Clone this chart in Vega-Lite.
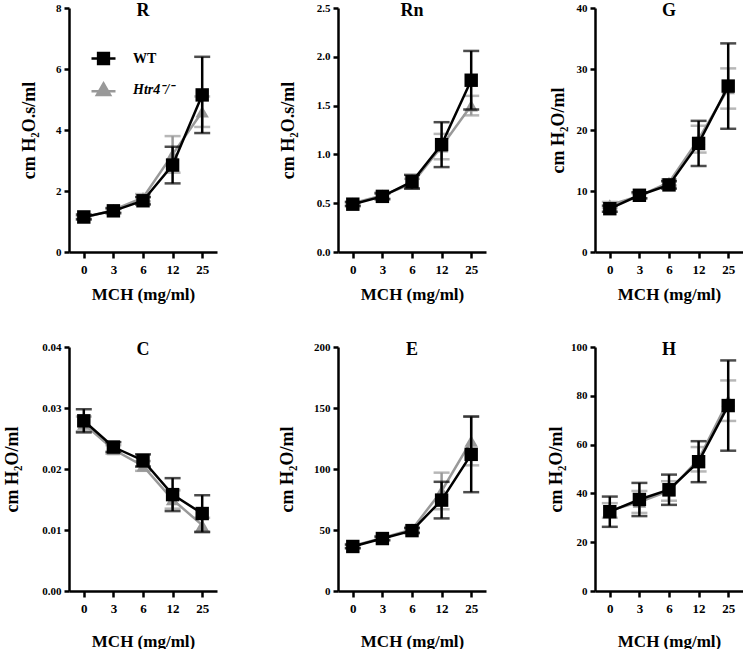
{
  "$schema": "https://vega.github.io/schema/vega-lite/v6.json",
  "padding": {"left": 3, "top": 2, "right": 0, "bottom": 0},
  "data": {"values": [
    {"panel": "R", "group": "WT", "dose": 0, "mean": 1.15, "err": 0.08},
    {"panel": "R", "group": "WT", "dose": 3, "mean": 1.35, "err": 0.08},
    {"panel": "R", "group": "WT", "dose": 6, "mean": 1.68, "err": 0.12},
    {"panel": "R", "group": "WT", "dose": 12, "mean": 2.85, "err": 0.6},
    {"panel": "R", "group": "WT", "dose": 25, "mean": 5.15, "err": 1.25},
    {"panel": "R", "group": "Htr4", "dose": 0, "mean": 1.12, "err": 0.05},
    {"panel": "R", "group": "Htr4", "dose": 3, "mean": 1.38, "err": 0.07},
    {"panel": "R", "group": "Htr4", "dose": 6, "mean": 1.78, "err": 0.12},
    {"panel": "R", "group": "Htr4", "dose": 12, "mean": 3.2, "err": 0.6},
    {"panel": "R", "group": "Htr4", "dose": 25, "mean": 4.6, "err": 0.5},
    {"panel": "Rn", "group": "WT", "dose": 0, "mean": 0.49, "err": 0.02},
    {"panel": "Rn", "group": "WT", "dose": 3, "mean": 0.57, "err": 0.03},
    {"panel": "Rn", "group": "WT", "dose": 6, "mean": 0.72, "err": 0.07},
    {"panel": "Rn", "group": "WT", "dose": 12, "mean": 1.1, "err": 0.23},
    {"panel": "Rn", "group": "WT", "dose": 25, "mean": 1.76, "err": 0.3},
    {"panel": "Rn", "group": "Htr4", "dose": 0, "mean": 0.5, "err": 0.02},
    {"panel": "Rn", "group": "Htr4", "dose": 3, "mean": 0.58, "err": 0.03},
    {"panel": "Rn", "group": "Htr4", "dose": 6, "mean": 0.7, "err": 0.05},
    {"panel": "Rn", "group": "Htr4", "dose": 12, "mean": 1.08, "err": 0.13},
    {"panel": "Rn", "group": "Htr4", "dose": 25, "mean": 1.5, "err": 0.1},
    {"panel": "G", "group": "WT", "dose": 0, "mean": 7.1, "err": 0.5},
    {"panel": "G", "group": "WT", "dose": 3, "mean": 9.3, "err": 0.5},
    {"panel": "G", "group": "WT", "dose": 6, "mean": 11.0, "err": 0.6},
    {"panel": "G", "group": "WT", "dose": 12, "mean": 17.8, "err": 3.7},
    {"panel": "G", "group": "WT", "dose": 25, "mean": 27.2, "err": 7.0},
    {"panel": "G", "group": "Htr4", "dose": 0, "mean": 7.7, "err": 0.5},
    {"panel": "G", "group": "Htr4", "dose": 3, "mean": 9.2, "err": 0.4},
    {"panel": "G", "group": "Htr4", "dose": 6, "mean": 11.4, "err": 0.5},
    {"panel": "G", "group": "Htr4", "dose": 12, "mean": 18.5, "err": 2.2},
    {"panel": "G", "group": "Htr4", "dose": 25, "mean": 26.8, "err": 3.3},
    {"panel": "C", "group": "WT", "dose": 0, "mean": 0.0279, "err": 0.0019},
    {"panel": "C", "group": "WT", "dose": 3, "mean": 0.0236, "err": 0.0008},
    {"panel": "C", "group": "WT", "dose": 6, "mean": 0.0214, "err": 0.001},
    {"panel": "C", "group": "WT", "dose": 12, "mean": 0.0158, "err": 0.0027},
    {"panel": "C", "group": "WT", "dose": 25, "mean": 0.0127, "err": 0.003},
    {"panel": "C", "group": "Htr4", "dose": 0, "mean": 0.0274, "err": 0.0012},
    {"panel": "C", "group": "Htr4", "dose": 3, "mean": 0.0232, "err": 0.0007},
    {"panel": "C", "group": "Htr4", "dose": 6, "mean": 0.0205, "err": 0.0008},
    {"panel": "C", "group": "Htr4", "dose": 12, "mean": 0.015, "err": 0.0015},
    {"panel": "C", "group": "Htr4", "dose": 25, "mean": 0.0108, "err": 0.0012},
    {"panel": "E", "group": "WT", "dose": 0, "mean": 36.5, "err": 1.5},
    {"panel": "E", "group": "WT", "dose": 3, "mean": 43, "err": 1.5},
    {"panel": "E", "group": "WT", "dose": 6, "mean": 49.5, "err": 2},
    {"panel": "E", "group": "WT", "dose": 12, "mean": 74.5, "err": 15},
    {"panel": "E", "group": "WT", "dose": 25, "mean": 112, "err": 31},
    {"panel": "E", "group": "Htr4", "dose": 0, "mean": 37, "err": 1.5},
    {"panel": "E", "group": "Htr4", "dose": 3, "mean": 43.5, "err": 1.5},
    {"panel": "E", "group": "Htr4", "dose": 6, "mean": 50.5, "err": 2},
    {"panel": "E", "group": "Htr4", "dose": 12, "mean": 82, "err": 15},
    {"panel": "E", "group": "Htr4", "dose": 25, "mean": 123, "err": 20},
    {"panel": "H", "group": "WT", "dose": 0, "mean": 32.5, "err": 6.2},
    {"panel": "H", "group": "WT", "dose": 3, "mean": 37.5, "err": 6.8},
    {"panel": "H", "group": "WT", "dose": 6, "mean": 41.5, "err": 6.2},
    {"panel": "H", "group": "WT", "dose": 12, "mean": 53, "err": 8.4},
    {"panel": "H", "group": "WT", "dose": 25, "mean": 76, "err": 18.5},
    {"panel": "H", "group": "Htr4", "dose": 0, "mean": 33, "err": 3},
    {"panel": "H", "group": "Htr4", "dose": 3, "mean": 36.5, "err": 4.5},
    {"panel": "H", "group": "Htr4", "dose": 6, "mean": 41, "err": 4},
    {"panel": "H", "group": "Htr4", "dose": 12, "mean": 54, "err": 5},
    {"panel": "H", "group": "Htr4", "dose": 25, "mean": 78, "err": 8.3}
  ]},
  "columns": 3,
  "spacing": {"row": 39, "column": 61},
  "resolve": {"scale": {"color": "independent", "y": "independent"}},
  "concat": [
    {
      "width": 148, "height": 244,
      "title": {"text": "R"},
      "transform": [{"filter": "datum.panel === 'R'"}],
      "encoding": {
        "x": {"field": "dose", "type": "ordinal", "sort": [0, 3, 6, 12, 25], "scale": {"type": "point", "padding": 0.5}, "axis": {"title": "MCH (mg/ml)"}},
        "y": {"field": "mean", "type": "quantitative", "scale": {"domain": [0, 8], "nice": false}, "axis": {"title": "cm H₂O.s/ml", "values": [0, 2, 4, 6, 8], "minExtent": 17, "maxExtent": 17, "titlePadding": 14}}
      },
      "layer": [
        {"transform": [{"filter": "datum.group === 'Htr4'"}], "layer": [
          {"mark": {"type": "errorbar", "color": "#999999", "ticks": {"size": 16}, "thickness": 2.5}, "encoding": {"yError": {"field": "err"}}},
          {"mark": {"type": "line", "color": "#999999", "strokeWidth": 2.5}},
          {"mark": {"type": "point", "color": "#999999", "shape": "triangle-up", "filled": true, "size": 180, "opacity": 1}}
        ]},
        {"transform": [{"filter": "datum.group === 'WT'"}], "layer": [
          {"mark": {"type": "errorbar", "color": "#000000", "ticks": {"size": 16}, "thickness": 2.5}, "encoding": {"yError": {"field": "err"}}},
          {"mark": {"type": "line", "color": "#000000", "strokeWidth": 2.5}},
          {"mark": {"type": "point", "color": "#000000", "shape": "square", "filled": true, "size": 180, "opacity": 1}}
        ]},
        {"transform": [{"filter": "datum.group === 'WT'"}],
          "mark": {"type": "point", "filled": true, "color": "#000000", "opacity": 0},
          "encoding": {"fill": {"field": "group", "type": "nominal", "scale": {"domain": ["WT"], "range": ["#000000"]},
            "legend": {"title": null, "orient": "none", "legendX": 21, "legendY": 37, "padding": 0, "labelOffset": 16,
              "symbolType": "M-1,0H1M-0.45,-0.45H0.45V0.45H-0.45Z", "symbolSize": 576, "symbolStrokeWidth": 2.5, "symbolFillColor": "#000000", "symbolStrokeColor": "#000000",
              "labelFont": "Liberation Serif", "labelFontSize": 14, "labelFontWeight": "bold", "labelColor": "#000000", "labelFontStyle": "normal",
              "encode": {"symbols": {"update": {"shape": {"value": "M-1,0H1M-0.45,-0.45H0.45V0.45H-0.45Z"}, "fill": {"value": "#000000"}, "stroke": {"value": "#000000"}, "strokeWidth": {"value": 2.5}, "opacity": {"value": 1}, "fillOpacity": {"value": 1}, "strokeOpacity": {"value": 1}, "size": {"value": 576}}}}
            }}}
        },
        {"transform": [{"filter": "datum.group === 'Htr4'"}],
          "mark": {"type": "point", "filled": true, "color": "#999999", "opacity": 0},
          "encoding": {"stroke": {"field": "group", "type": "nominal", "scale": {"domain": ["Htr4"], "range": ["#999999"]},
            "legend": {"title": null, "orient": "none", "legendX": 21, "legendY": 68, "padding": 0, "labelOffset": 16,
              "symbolType": "M-1,0.15H1M0,-0.5L0.55,0.45H-0.55Z", "symbolSize": 576, "symbolStrokeWidth": 2.5, "symbolFillColor": "#999999", "symbolStrokeColor": "#999999",
              "labelFont": "Liberation Serif", "labelFontSize": 14, "labelFontWeight": "bold", "labelColor": "#000000", "labelFontStyle": "italic",
              "labelExpr": "'Htr4⁻/⁻'",
              "encode": {"symbols": {"update": {"shape": {"value": "M-1,0.15H1M0,-0.5L0.55,0.45H-0.55Z"}, "fill": {"value": "#999999"}, "stroke": {"value": "#999999"}, "strokeWidth": {"value": 2.5}, "opacity": {"value": 1}, "fillOpacity": {"value": 1}, "strokeOpacity": {"value": 1}, "size": {"value": 576}}}}
            }}}
        }
      ]
    },
    {
      "width": 148, "height": 244,
      "title": {"text": "Rn"},
      "transform": [{"filter": "datum.panel === 'Rn'"}],
      "encoding": {
        "x": {"field": "dose", "type": "ordinal", "sort": [0, 3, 6, 12, 25], "scale": {"type": "point", "padding": 0.5}, "axis": {"title": "MCH (mg/ml)"}},
        "y": {"field": "mean", "type": "quantitative", "scale": {"domain": [0, 2.5], "nice": false}, "axis": {"title": "cm H₂O.s/ml", "values": [0, 0.5, 1, 1.5, 2, 2.5], "format": ".1f", "minExtent": 33, "maxExtent": 33, "titlePadding": 8}}
      },
      "layer": [
        {"transform": [{"filter": "datum.group === 'Htr4'"}], "layer": [
          {"mark": {"type": "errorbar", "color": "#999999", "ticks": {"size": 16}, "thickness": 2.5}, "encoding": {"yError": {"field": "err"}}},
          {"mark": {"type": "line", "color": "#999999", "strokeWidth": 2.5}},
          {"mark": {"type": "point", "color": "#999999", "shape": "triangle-up", "filled": true, "size": 180, "opacity": 1}}
        ]},
        {"transform": [{"filter": "datum.group === 'WT'"}], "layer": [
          {"mark": {"type": "errorbar", "color": "#000000", "ticks": {"size": 16}, "thickness": 2.5}, "encoding": {"yError": {"field": "err"}}},
          {"mark": {"type": "line", "color": "#000000", "strokeWidth": 2.5}},
          {"mark": {"type": "point", "color": "#000000", "shape": "square", "filled": true, "size": 180, "opacity": 1}}
        ]}
      ]
    },
    {
      "width": 148, "height": 244,
      "title": {"text": "G"},
      "transform": [{"filter": "datum.panel === 'G'"}],
      "encoding": {
        "x": {"field": "dose", "type": "ordinal", "sort": [0, 3, 6, 12, 25], "scale": {"type": "point", "padding": 0.5}, "axis": {"title": "MCH (mg/ml)"}},
        "y": {"field": "mean", "type": "quantitative", "scale": {"domain": [0, 40], "nice": false}, "axis": {"title": "cm H₂O/ml", "values": [0, 10, 20, 30, 40], "minExtent": 22, "maxExtent": 22, "titlePadding": 6}}
      },
      "layer": [
        {"transform": [{"filter": "datum.group === 'Htr4'"}], "layer": [
          {"mark": {"type": "errorbar", "color": "#999999", "ticks": {"size": 16}, "thickness": 2.5}, "encoding": {"yError": {"field": "err"}}},
          {"mark": {"type": "line", "color": "#999999", "strokeWidth": 2.5}},
          {"mark": {"type": "point", "color": "#999999", "shape": "triangle-up", "filled": true, "size": 180, "opacity": 1}}
        ]},
        {"transform": [{"filter": "datum.group === 'WT'"}], "layer": [
          {"mark": {"type": "errorbar", "color": "#000000", "ticks": {"size": 16}, "thickness": 2.5}, "encoding": {"yError": {"field": "err"}}},
          {"mark": {"type": "line", "color": "#000000", "strokeWidth": 2.5}},
          {"mark": {"type": "point", "color": "#000000", "shape": "square", "filled": true, "size": 180, "opacity": 1}}
        ]}
      ]
    },
    {
      "width": 148, "height": 244,
      "title": {"text": "C"},
      "transform": [{"filter": "datum.panel === 'C'"}],
      "encoding": {
        "x": {"field": "dose", "type": "ordinal", "sort": [0, 3, 6, 12, 25], "scale": {"type": "point", "padding": 0.5}, "axis": {"title": "MCH (mg/ml)", "titlePadding": 18}},
        "y": {"field": "mean", "type": "quantitative", "scale": {"domain": [0, 0.04], "nice": false}, "axis": {"title": "cm H₂O/ml", "values": [0, 0.01, 0.02, 0.03, 0.04], "format": ".2f", "minExtent": 36, "maxExtent": 36, "titlePadding": 12}}
      },
      "layer": [
        {"transform": [{"filter": "datum.group === 'Htr4'"}], "layer": [
          {"mark": {"type": "errorbar", "color": "#999999", "ticks": {"size": 16}, "thickness": 2.5}, "encoding": {"yError": {"field": "err"}}},
          {"mark": {"type": "line", "color": "#999999", "strokeWidth": 2.5}},
          {"mark": {"type": "point", "color": "#999999", "shape": "triangle-up", "filled": true, "size": 180, "opacity": 1}}
        ]},
        {"transform": [{"filter": "datum.group === 'WT'"}], "layer": [
          {"mark": {"type": "errorbar", "color": "#000000", "ticks": {"size": 16}, "thickness": 2.5}, "encoding": {"yError": {"field": "err"}}},
          {"mark": {"type": "line", "color": "#000000", "strokeWidth": 2.5}},
          {"mark": {"type": "point", "color": "#000000", "shape": "square", "filled": true, "size": 180, "opacity": 1}}
        ]}
      ]
    },
    {
      "width": 148, "height": 244,
      "title": {"text": "E"},
      "transform": [{"filter": "datum.panel === 'E'"}],
      "encoding": {
        "x": {"field": "dose", "type": "ordinal", "sort": [0, 3, 6, 12, 25], "scale": {"type": "point", "padding": 0.5}, "axis": {"title": "MCH (mg/ml)", "titlePadding": 18}},
        "y": {"field": "mean", "type": "quantitative", "scale": {"domain": [0, 200], "nice": false}, "axis": {"title": "cm H₂O/ml", "values": [0, 50, 100, 150, 200], "minExtent": 34, "maxExtent": 34, "titlePadding": 8}}
      },
      "layer": [
        {"transform": [{"filter": "datum.group === 'Htr4'"}], "layer": [
          {"mark": {"type": "errorbar", "color": "#999999", "ticks": {"size": 16}, "thickness": 2.5}, "encoding": {"yError": {"field": "err"}}},
          {"mark": {"type": "line", "color": "#999999", "strokeWidth": 2.5}},
          {"mark": {"type": "point", "color": "#999999", "shape": "triangle-up", "filled": true, "size": 180, "opacity": 1}}
        ]},
        {"transform": [{"filter": "datum.group === 'WT'"}], "layer": [
          {"mark": {"type": "errorbar", "color": "#000000", "ticks": {"size": 16}, "thickness": 2.5}, "encoding": {"yError": {"field": "err"}}},
          {"mark": {"type": "line", "color": "#000000", "strokeWidth": 2.5}},
          {"mark": {"type": "point", "color": "#000000", "shape": "square", "filled": true, "size": 180, "opacity": 1}}
        ]}
      ]
    },
    {
      "width": 148, "height": 244,
      "title": {"text": "H"},
      "transform": [{"filter": "datum.panel === 'H'"}],
      "encoding": {
        "x": {"field": "dose", "type": "ordinal", "sort": [0, 3, 6, 12, 25], "scale": {"type": "point", "padding": 0.5}, "axis": {"title": "MCH (mg/ml)", "titlePadding": 18}},
        "y": {"field": "mean", "type": "quantitative", "scale": {"domain": [0, 100], "nice": false}, "axis": {"title": "cm H₂O/ml", "values": [0, 20, 40, 60, 80, 100], "minExtent": 26, "maxExtent": 26, "titlePadding": 4}}
      },
      "layer": [
        {"transform": [{"filter": "datum.group === 'Htr4'"}], "layer": [
          {"mark": {"type": "errorbar", "color": "#999999", "ticks": {"size": 16}, "thickness": 2.5}, "encoding": {"yError": {"field": "err"}}},
          {"mark": {"type": "line", "color": "#999999", "strokeWidth": 2.5}},
          {"mark": {"type": "point", "color": "#999999", "shape": "triangle-up", "filled": true, "size": 180, "opacity": 1}}
        ]},
        {"transform": [{"filter": "datum.group === 'WT'"}], "layer": [
          {"mark": {"type": "errorbar", "color": "#000000", "ticks": {"size": 16}, "thickness": 2.5}, "encoding": {"yError": {"field": "err"}}},
          {"mark": {"type": "line", "color": "#000000", "strokeWidth": 2.5}},
          {"mark": {"type": "point", "color": "#000000", "shape": "square", "filled": true, "size": 180, "opacity": 1}}
        ]}
      ]
    }
  ],
  "config": {
    "view": {"stroke": null},
    "font": "Liberation Serif",
    "axis": {"domainColor": "#000000", "domainWidth": 2.5, "tickColor": "#000000", "tickWidth": 2.5, "labelColor": "#000000", "titleColor": "#000000", "labelFont": "Liberation Serif", "titleFont": "Liberation Serif", "labelFontWeight": "bold", "titleFontWeight": "bold", "grid": false},
    "axisX": {"labelAngle": 0, "tickSize": 6, "labelFontSize": 13, "labelPadding": 5, "titleFontSize": 17, "titlePadding": 10},
    "axisY": {"tickSize": 5, "labelFontSize": 11, "labelPadding": 3, "titleFontSize": 18},
    "title": {"font": "Liberation Serif", "fontSize": 18, "fontWeight": "bold", "color": "#000000", "anchor": "middle", "offset": -18, "baseline": "alphabetic"}
  }
}
